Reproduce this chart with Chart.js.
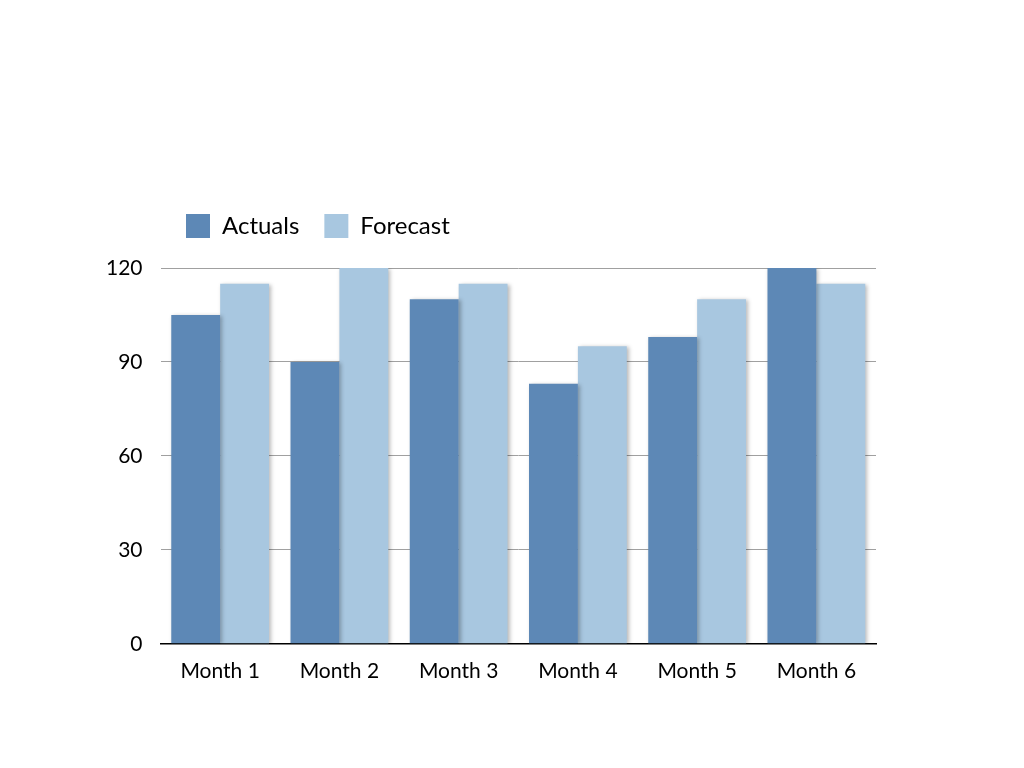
<!DOCTYPE html>
<html>
<head>
<meta charset="utf-8">
<script src="https://cdn.jsdelivr.net/npm/chart.js@4/dist/chart.umd.min.js"></script>
<style>
  html, body { margin: 0; padding: 0; background: #fff; }
  #wrap { width: 1024px; height: 768px; }
</style>
</head>
<body>
<div id="wrap"><canvas id="chart" width="1024" height="768"></canvas></div>
<script>
// данные графика
const months   = ['Month 1', 'Month 2', 'Month 3', 'Month 4', 'Month 5', 'Month 6'];
const actuals  = [105, 90, 110, 83, 98, 120];
const forecast = [115, 120, 115, 95, 110, 115];
const yTicks   = [0, 30, 60, 90, 120];

// лёгкая тень у столбиков
const barShadow = {
  id: 'barShadow',
  beforeDatasetsDraw(chart) {
    const ctx = chart.ctx;
    ctx.save();
    ctx.shadowColor = 'rgba(0,0,0,0.28)';
    ctx.shadowBlur = 4;
    ctx.shadowOffsetX = 2;
    ctx.shadowOffsetY = 1;
  },
  afterDatasetsDraw(chart) {
    chart.ctx.restore();
  }
};

// сдвигаем легенду: правее и чуть выше области графика
const legendShift = {
  id: 'legendShift',
  afterLayout(chart) {
    const lg = chart.legend;
    lg.left += 73;
    lg.right += 73;
    lg.top -= 20;
    lg.bottom -= 20;
  }
};

const ctx = document.getElementById('chart').getContext('2d');
new Chart(ctx, {
  type: 'bar',
  data: {
    labels: months,
    datasets: [
      { label: 'Actuals',  data: actuals,  backgroundColor: '#5d88b6', borderWidth: 0 },
      { label: 'Forecast', data: forecast, backgroundColor: '#a8c7e0', borderWidth: 0 }
    ]
  },
  plugins: [barShadow, legendShift],
  options: {
    responsive: false,
    animation: false,
    layout: { padding: { top: 209, left: 88, right: 148, bottom: 77 } },
    datasets: { bar: { barPercentage: 1.0, categoryPercentage: 0.82 } },
    plugins: {
      legend: {
        position: 'top',
        align: 'start',
        labels: {
          boxWidth: 24,
          boxHeight: 24,
          padding: 25,
          color: '#000',
          font: { family: 'Lato', size: 24 }
        }
      },
      tooltip: { enabled: false }
    },
    scales: {
      x: {
        grid: { display: false },
        border: { color: '#000', width: 1.5 },
        ticks: { color: '#000', font: { family: 'Lato', size: 21 }, padding: 7 }
      },
      y: {
        min: 0,
        max: 120,
        afterBuildTicks(axis) { axis.ticks = yTicks.map(v => ({ value: v })); },
        grid: { color: '#a0a0a0', lineWidth: 1, drawTicks: false },
        border: { display: false },
        ticks: { color: '#000', font: { family: 'Lato', size: 21 }, padding: 18 }
      }
    }
  }
});
</script>
</body>
</html>
